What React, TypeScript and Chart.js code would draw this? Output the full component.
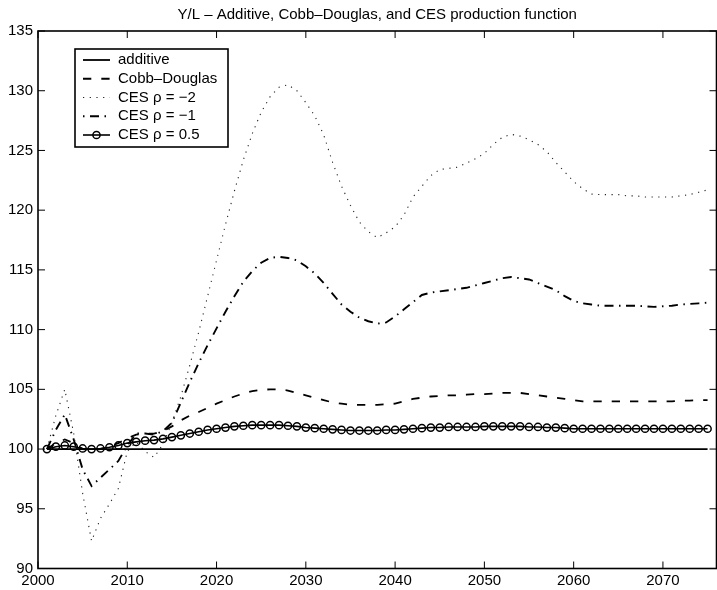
import React, { useEffect, useRef } from "react";
import { Chart, registerables } from "chart.js";

Chart.register(...registerables);

const TITLE = "Y/L – Additive, Cobb–Douglas, and CES production function";

const years = [
  2001, 2002, 2003, 2004, 2005, 2006, 2007, 2008, 2009, 2010,
  2011, 2012, 2013, 2014, 2015, 2016, 2017, 2018, 2019, 2020,
  2021, 2022, 2023, 2024, 2025, 2026, 2027, 2028, 2029, 2030,
  2031, 2032, 2033, 2034, 2035, 2036, 2037, 2038, 2039, 2040,
  2041, 2042, 2043, 2044, 2045, 2046, 2047, 2048, 2049, 2050,
  2051, 2052, 2053, 2054, 2055, 2056, 2057, 2058, 2059, 2060,
  2061, 2062, 2063, 2064, 2065, 2066, 2067, 2068, 2069, 2070,
  2071, 2072, 2073, 2074, 2075,
];

const additive = [
  100, 100, 100, 100, 100, 100, 100, 100, 100, 100,
  100, 100, 100, 100, 100, 100, 100, 100, 100, 100,
  100, 100, 100, 100, 100, 100, 100, 100, 100, 100,
  100, 100, 100, 100, 100, 100, 100, 100, 100, 100,
  100, 100, 100, 100, 100, 100, 100, 100, 100, 100,
  100, 100, 100, 100, 100, 100, 100, 100, 100, 100,
  100, 100, 100, 100, 100, 100, 100, 100, 100, 100,
  100, 100, 100, 100, 100,
];

const cobbDouglas = [
  100.0, 100.5, 100.8, 100.5, 100.0, 99.9, 100.0, 100.2, 100.5, 100.9,
  101.2, 101.3, 101.3, 101.5, 101.9, 102.4, 102.8, 103.1, 103.45, 103.8,
  104.1, 104.4, 104.65, 104.85, 104.95, 105.0, 105.0, 104.9, 104.7, 104.5,
  104.3, 104.1, 103.9, 103.8, 103.7, 103.7, 103.7, 103.7, 103.75, 103.8,
  104.0, 104.2, 104.3, 104.4, 104.45, 104.5, 104.5, 104.55, 104.6, 104.6,
  104.65, 104.7, 104.7, 104.7, 104.6, 104.5, 104.4, 104.3, 104.2, 104.1,
  104.0, 104.0, 104.0, 104.0, 104.0, 104.0, 104.0, 104.0, 104.0, 104.0,
  104.0, 104.05, 104.05, 104.1, 104.1,
];

const cesMinus2 = [
  100.0, 102.8, 105.0, 101.3, 96.3, 92.3, 94.2, 95.4, 96.7, 99.8,
  100.6, 99.8, 99.3, 100.4, 102.2, 104.4, 107.0, 109.8, 112.8, 115.8,
  118.8, 121.6, 124.2, 126.4, 128.2, 129.5, 130.3, 130.5, 130.0, 129.0,
  127.9, 126.3, 124.0, 122.0, 120.4, 119.0, 118.2, 117.7, 118.1, 118.6,
  119.6, 121.1, 122.0, 122.9, 123.4, 123.5, 123.6, 123.95, 124.3, 124.75,
  125.5, 126.1, 126.35, 126.2, 125.9, 125.5, 124.9, 124.0, 123.2, 122.4,
  121.8, 121.35, 121.3, 121.3, 121.3, 121.2, 121.2, 121.1, 121.1, 121.1,
  121.1, 121.2, 121.3, 121.5, 121.7,
];

const cesMinus1 = [
  100.0, 101.6, 102.9, 100.8, 98.3, 96.9, 97.6, 98.3, 99.0, 100.3,
  101.3, 101.3, 101.2, 101.5, 102.2, 103.9, 105.6, 107.2, 108.7, 110.1,
  111.5, 112.8, 114.0, 114.9, 115.6, 116.0, 116.1, 116.0, 115.8, 115.3,
  114.7, 113.9, 113.0, 112.1, 111.5, 111.0, 110.7, 110.5, 110.6, 111.1,
  111.7, 112.3, 112.9, 113.1, 113.2, 113.3, 113.4, 113.5, 113.7, 113.9,
  114.1, 114.3, 114.4, 114.3, 114.2, 113.9, 113.6, 113.3, 112.8, 112.4,
  112.2, 112.1, 112.0, 112.0, 112.0, 112.0, 112.0, 111.95, 111.9, 111.95,
  112.0, 112.1, 112.15, 112.2, 112.25,
];

const cesHalf = [
  100.0, 100.2, 100.3, 100.2, 100.05, 100.0, 100.05, 100.15, 100.3, 100.5,
  100.6, 100.7, 100.75, 100.85, 101.0, 101.15, 101.3, 101.45, 101.6, 101.7,
  101.8, 101.9, 101.95, 102.0, 102.0, 102.0, 102.0, 101.95, 101.9, 101.8,
  101.75, 101.7, 101.65, 101.6, 101.55, 101.55, 101.55, 101.55, 101.6, 101.6,
  101.65, 101.7, 101.75, 101.8, 101.8, 101.85, 101.85, 101.85, 101.85, 101.9,
  101.9, 101.9, 101.9, 101.9, 101.85, 101.85, 101.8, 101.8, 101.75, 101.7,
  101.7, 101.7, 101.7, 101.7, 101.7, 101.7, 101.7, 101.7, 101.7, 101.7,
  101.7, 101.7, 101.7, 101.7, 101.7,
];

const seriesLabels = [
  "additive",
  "Cobb–Douglas",
  "CES ρ = −2",
  "CES ρ = −1",
  "CES ρ = 0.5",
];

const X_MIN = 2000;
const X_MAX = 2076;
const X_STEP = 10;
const Y_MIN = 90;
const Y_MAX = 135;
const Y_STEP = 5;

const FONT = "'Liberation Sans', Arial, Helvetica, sans-serif";

const toPoints = (vals: number[]) => vals.map((v, i) => ({ x: years[i], y: v }));

const boxTicksPlugin = {
  id: "boxTicks",
  afterDatasetsDraw(chart: any) {
    const { ctx, chartArea: a, scales } = chart;
    const xs = scales.x;
    const ys = scales.y;
    const tl = 7;
    ctx.save();
    ctx.strokeStyle = "#000";
    ctx.lineWidth = 1;
    ctx.setLineDash([]);
    ctx.beginPath();
    ys.ticks.forEach((t: any) => {
      const py = ys.getPixelForValue(t.value);
      ctx.moveTo(a.left, py);
      ctx.lineTo(a.left + tl, py);
      ctx.moveTo(a.right, py);
      ctx.lineTo(a.right - tl, py);
    });
    xs.ticks.forEach((t: any) => {
      const px = xs.getPixelForValue(t.value);
      ctx.moveTo(px, a.bottom);
      ctx.lineTo(px, a.bottom - tl);
      ctx.moveTo(px, a.top);
      ctx.lineTo(px, a.top + tl);
    });
    ctx.stroke();
    ctx.lineWidth = 1.6;
    ctx.strokeRect(a.left, a.top, a.right - a.left, a.bottom - a.top);
    ctx.restore();
  },
};

const legendPlugin = {
  id: "matlabLegend",
  afterDraw(chart: any) {
    const { ctx, chartArea: a } = chart;
    const bx = a.left + 37;
    const by = a.top + 18;
    const bw = 153;
    const bh = 98;
    ctx.save();
    ctx.fillStyle = "#fff";
    ctx.fillRect(bx, by, bw, bh);
    ctx.strokeStyle = "#000";
    ctx.lineWidth = 1.6;
    ctx.setLineDash([]);
    ctx.strokeRect(bx, by, bw, bh);
    const x0 = bx + 8;
    const x1 = bx + 35;
    chart.data.datasets.forEach((ds: any, i: number) => {
      const y = by + 11 + i * 18.75;
      ctx.save();
      ctx.strokeStyle = ds.borderColor;
      ctx.lineWidth = ds.borderWidth;
      ctx.setLineDash(ds.borderDash || []);
      ctx.lineDashOffset = ds.legendDashOffset || 0;
      ctx.beginPath();
      ctx.moveTo(x0, y);
      ctx.lineTo(x1, y);
      ctx.stroke();
      if (ds.pointRadius > 0) {
        ctx.setLineDash([]);
        ctx.lineWidth = ds.pointBorderWidth;
        ctx.beginPath();
        ctx.arc((x0 + x1) / 2, y, ds.pointRadius, 0, Math.PI * 2);
        ctx.stroke();
      }
      ctx.restore();
      ctx.fillStyle = "#000";
      ctx.font = `15px ${FONT}`;
      ctx.textAlign = "left";
      ctx.textBaseline = "middle";
      ctx.fillText(ds.label, bx + 43, y);
    });
    ctx.restore();
  },
};

export default function App() {
  const canvasRef = useRef<HTMLCanvasElement | null>(null);

  useEffect(() => {
    if (!canvasRef.current) return;
    Chart.defaults.font.family = FONT;
    Chart.defaults.font.size = 15;
    Chart.defaults.color = "#000";

    const common = { pointRadius: 0, tension: 0, fill: false };
    const chart = new Chart(canvasRef.current, {
      type: "line",
      data: {
        datasets: [
          {
            ...common,
            label: seriesLabels[0],
            data: toPoints(additive),
            borderColor: "#000",
            borderWidth: 1.8,
            borderDash: [],
          },
          {
            ...common,
            label: seriesLabels[1],
            data: toPoints(cobbDouglas),
            borderColor: "#000",
            borderWidth: 1.8,
            borderDash: [8.3, 10],
          },
          {
            ...common,
            label: seriesLabels[2],
            data: toPoints(cesMinus2),
            borderColor: "#222",
            borderWidth: 1.1,
            borderDash: [1.2, 5.5],
          },
          {
            ...common,
            label: seriesLabels[3],
            data: toPoints(cesMinus1),
            borderColor: "#000",
            borderWidth: 1.9,
            borderDash: [9, 5.5, 1.5, 5.5],
            legendDashOffset: 14.5,
          } as any,
          {
            label: seriesLabels[4],
            data: toPoints(cesHalf),
            borderColor: "#000",
            borderWidth: 1.6,
            borderDash: [],
            tension: 0,
            fill: false,
            pointRadius: 3.6,
            pointBorderWidth: 1.5,
            pointBorderColor: "#000",
            pointBackgroundColor: "rgba(0,0,0,0)",
            pointStyle: "circle",
          },
        ],
      },
      options: {
        responsive: false,
        animation: false,
        devicePixelRatio: 1,
        layout: { padding: 0 },
        events: [],
        plugins: {
          legend: { display: false },
          tooltip: { enabled: false },
          title: {
            display: true,
            text: TITLE,
            fullSize: false,
            color: "#000",
            font: { family: FONT, size: 15, weight: "normal", lineHeight: 1.2 },
            padding: { top: 6, bottom: 7 },
          },
        },
        scales: {
          x: {
            type: "linear",
            min: X_MIN,
            max: X_MAX,
            grid: { display: false, drawTicks: false },
            border: { display: false },
            ticks: {
              stepSize: X_STEP,
              includeBounds: false,
              padding: 3,
              color: "#000",
              font: { family: FONT, size: 15 },
              maxRotation: 0,
              callback: (v: any) => String(v),
            },
            afterFit: (s: any) => {
              s.height = 21.5;
            },
          },
          y: {
            type: "linear",
            min: Y_MIN,
            max: Y_MAX,
            grid: { display: false, drawTicks: false },
            border: { display: false },
            ticks: {
              stepSize: Y_STEP,
              padding: 5,
              color: "#000",
              font: { family: FONT, size: 15 },
              callback: (v: any) => String(v),
            },
            afterFit: (s: any) => {
              s.width = 38;
            },
          },
        },
      },
      plugins: [boxTicksPlugin, legendPlugin],
    } as any);
    return () => chart.destroy();
  }, []);

  return (
    <div
      style={{
        position: "absolute",
        left: 0,
        top: 0,
        width: 717,
        height: 590,
        overflow: "hidden",
        background: "#fff",
      }}
    >
      <canvas ref={canvasRef} width={722} height={590} style={{ display: "block" }} />
    </div>
  );
}
